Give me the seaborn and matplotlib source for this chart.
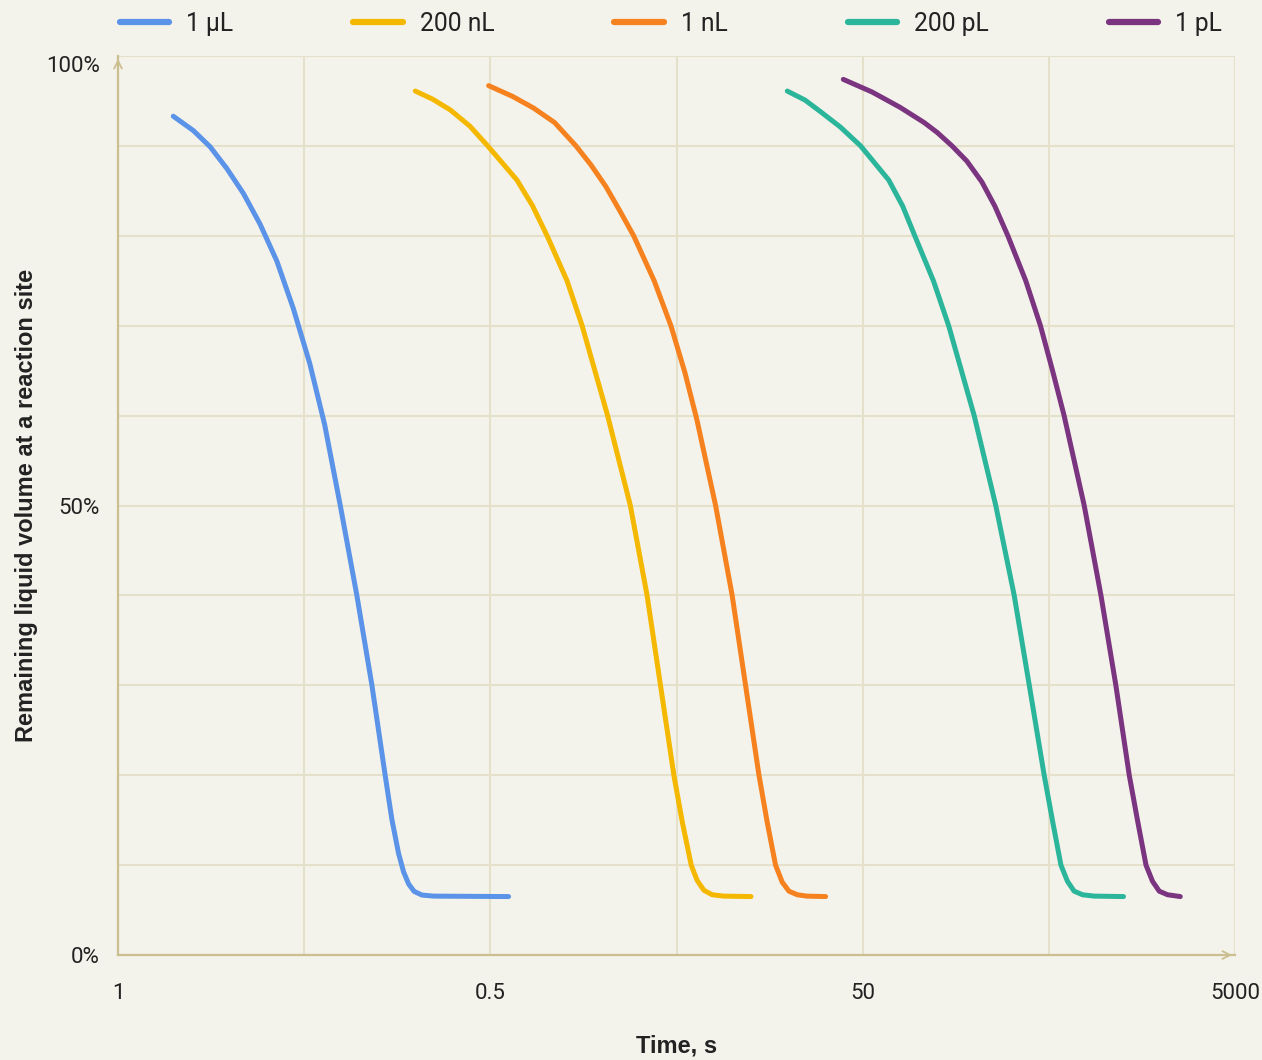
import numpy as np
import pandas as pd
import seaborn as sns
from matplotlib import pyplot as plt

# evaporation curves, x in grid units (tick labels 1, 0.5, 50, 5000 at 0, 2, 4, 6)
volumes = ['1 µL', '200 nL', '1 nL', '200 pL', '1 pL']
colors = ['#5B93E8', '#F5B800', '#F5821F', '#2BB59B', '#7B3580']

x_1ul = [0.297, 0.405, 0.495, 0.584, 0.674, 0.763, 0.853, 0.942, 1.030, 1.110,
         1.194, 1.283, 1.364, 1.435, 1.471, 1.507, 1.534, 1.561, 1.591, 1.632,
         1.695, 2.098]
y_1ul = [93.3, 91.7, 89.9, 87.5, 84.7, 81.3, 77.2, 71.9, 65.8, 59.0,
         50.0, 40.0, 30.0, 20.0, 15.1, 11.3, 9.25, 7.9, 7.07, 6.67,
         6.55, 6.5]

x_200nl = [1.597, 1.690, 1.785, 1.890, 1.986, 2.143, 2.225, 2.305, 2.412, 2.493,
           2.630, 2.752, 2.842, 2.914, 2.986, 3.031, 3.079, 3.111, 3.147, 3.192,
           3.254, 3.400]
y_200nl = [96.1, 95.2, 94.0, 92.2, 90.0, 86.2, 83.4, 80.0, 75.0, 70.0,
           60.0, 50.0, 40.0, 30.0, 20.0, 14.8, 10.0, 8.3, 7.2, 6.7,
           6.55, 6.5]

x_1nl = [1.991, 2.120, 2.233, 2.345, 2.460, 2.540, 2.620, 2.695, 2.770, 2.880,
         2.970, 3.045, 3.110, 3.210, 3.299, 3.371, 3.443, 3.487, 3.532, 3.568,
         3.604, 3.649, 3.700, 3.801]
y_1nl = [96.7, 95.5, 94.2, 92.6, 90.0, 87.9, 85.5, 82.8, 80.0, 75.0,
         70.0, 64.8, 59.5, 50.0, 40.0, 30.0, 20.0, 14.8, 10.0, 8.1,
         7.1, 6.7, 6.55, 6.5]

x_200pl = [3.595, 3.690, 3.774, 3.880, 3.989, 4.140, 4.215, 4.280, 4.380, 4.462,
           4.599, 4.715, 4.814, 4.895, 4.975, 5.020, 5.065, 5.100, 5.136, 5.181,
           5.244, 5.401]
y_200pl = [96.1, 95.1, 93.8, 92.1, 90.0, 86.2, 83.3, 80.0, 75.0, 70.0,
           60.0, 50.0, 40.0, 30.0, 20.0, 14.9, 10.0, 8.2, 7.1, 6.7,
           6.55, 6.5]

x_1pl = [3.896, 4.050, 4.200, 4.330, 4.400, 4.480, 4.560, 4.640, 4.710, 4.780,
         4.876, 4.955, 5.020, 5.082, 5.190, 5.280, 5.360, 5.432, 5.477, 5.522,
         5.557, 5.593, 5.638, 5.706]
y_1pl = [97.4, 96.0, 94.3, 92.6, 91.5, 90.0, 88.3, 86.0, 83.3, 80.0,
         75.0, 70.0, 65.0, 60.0, 50.0, 40.0, 30.0, 20.0, 14.9, 10.0,
         8.2, 7.1, 6.7, 6.5]

x_ticklabels = ['1', '0.5', '50', '5000']
y_ticklabels = {0: '0%', 50: '50%', 100: '100%'}

all_x = [x_1ul, x_200nl, x_1nl, x_200pl, x_1pl]
all_y = [y_1ul, y_200nl, y_1nl, y_200pl, y_1pl]
df = pd.concat([pd.DataFrame({'time': xs, 'volume_left': ys, 'volume': v})
                for xs, ys, v in zip(all_x, all_y, volumes)], ignore_index=True)

bg = '#F4F3EB'
grid_c = '#E5E0C9'
axis_c = '#CBBF92'
text_c = '#222222'

sns.set_style('white')
plt.rcParams['font.family'] = ['Roboto', 'DejaVu Sans']

fig = plt.figure(figsize=(12.62, 10.60), dpi=100, facecolor=bg)
ax = fig.add_axes([118 / 1262, 1 - 955 / 1060, (1235 - 118) / 1262, (955 - 56) / 1060])
ax.set_facecolor(bg)

sns.lineplot(data=df, x='time', y='volume_left', hue='volume', hue_order=volumes,
             palette=colors, linewidth=3.6, ax=ax, legend=True, sort=False)
for line in ax.get_lines():
    line.set_solid_capstyle('round')
    line.set_solid_joinstyle('round')
    line.set_zorder(3)

ax.set_xlim(0, 6)
ax.set_ylim(0, 100)
ax.set_xticks(np.arange(0, 7, 1))
ax.set_xticklabels([x_ticklabels[i // 2] if i % 2 == 0 else '' for i in range(7)])
ax.set_yticks(np.arange(0, 101, 10))
ax.set_yticklabels([y_ticklabels.get(t, '') for t in range(0, 101, 10)])
ax.tick_params(axis='x', length=0, pad=20, labelsize=16, labelcolor=text_c)
ax.tick_params(axis='y', length=0, pad=13, labelsize=16, labelcolor=text_c)
ax.get_yticklabels()[-1].set_verticalalignment('top')
ax.grid(True, color=grid_c, linewidth=1.5, zorder=0)
ax.set_axisbelow(True)

for s in ['top', 'right']:
    ax.spines[s].set_visible(False)
for s in ['left', 'bottom']:
    ax.spines[s].set_color(axis_c)
    ax.spines[s].set_linewidth(1.6)

# arrow heads on the axes
ax.annotate('', xy=(0, 1.0), xytext=(0, 0.99), xycoords='axes fraction',
            arrowprops=dict(arrowstyle='->', color=axis_c, lw=1.3, mutation_scale=14), annotation_clip=False)
ax.annotate('', xy=(1.0, 0), xytext=(0.99, 0), xycoords='axes fraction',
            arrowprops=dict(arrowstyle='->', color=axis_c, lw=1.3, mutation_scale=14), annotation_clip=False)

ax.set_xlabel('Time, s', fontsize=17, fontweight='bold', family='Liberation Sans', color=text_c, labelpad=22)
ax.set_ylabel('Remaining liquid volume at a reaction site', fontsize=17, fontweight='bold',
              family='Liberation Sans', color=text_c, labelpad=6)

handles, labels = ax.get_legend_handles_labels()
ax.get_legend().remove()
for h in handles:
    h.set_linewidth(4.5)
    h.set_solid_capstyle('round')
fig.legend(handles, labels, loc='center left', bbox_to_anchor=(120 / 1262, 1 - 24 / 1060),
           ncol=5, frameon=False, fontsize=17.7, handlelength=2.0, handletextpad=0.7,
           columnspacing=4.88, borderpad=0, borderaxespad=0, labelcolor=text_c)

fig.savefig('out.png', dpi=100, facecolor=bg)
plt.close('all')
